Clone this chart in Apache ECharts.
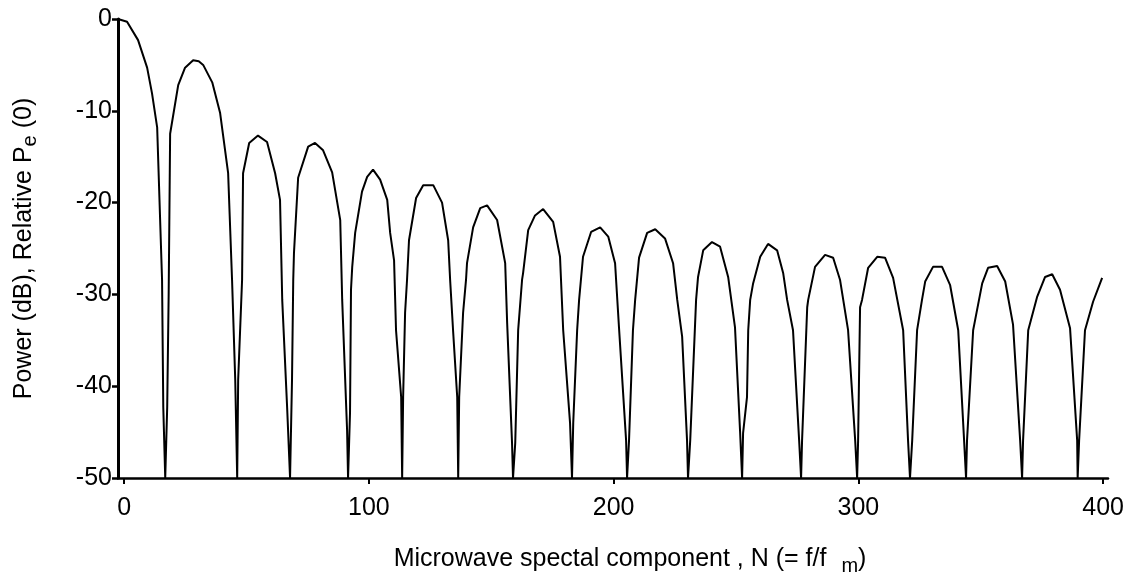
<!DOCTYPE html>
<html>
<head>
<meta charset="utf-8">
<script src="https://cdn.jsdelivr.net/npm/echarts@6/dist/echarts.min.js"></script>
<style>
  html, body { margin: 0; padding: 0; background: #fff; }
  #main { width: 1135px; height: 578px; }
</style>
</head>
<body>
<div id="main"></div>
<script>
// spectral component number N (= f/fm)
var componentN = [
  -2.5, 1.2, 5.7, 9.4, 11.4, 13.5, 15.5, 16.0, 16.8,
  17.6, 18.2, 18.8, 22.1, 24.9, 28.2, 30.5, 32.3, 36.0, 39.2, 42.5, 44.1, 45.4, 46.2,
  46.6, 48.2, 48.6, 51.1, 54.7, 58.4, 61.7, 63.7, 64.6, 66.6, 67.8,
  68.6, 69.1, 69.4, 71.1, 75.2, 78.0, 81.3, 85.0, 88.3, 89.1, 91.1, 91.5,
  92.3, 92.7, 93.2, 94.4, 97.2, 99.3, 101.7, 104.6, 107.5, 108.7, 110.3, 111.1, 113.2, 113.6,
  114.0, 114.8, 115.6, 116.4, 119.3, 122.2, 126.3, 129.9, 132.4, 133.2, 134.4, 136.1, 136.5,
  136.9, 138.5, 139.7, 140.1, 142.6, 145.5, 148.3, 152.4, 155.7, 156.5, 158.5, 158.9,
  159.8, 161.0, 162.6, 163.0, 165.1, 167.9, 171.2, 175.3, 178.1, 179.4, 182.2, 183.0,
  183.5, 185.1, 185.9, 187.5, 190.8, 194.5, 197.8, 200.6, 202.2, 205.1, 205.5,
  206.3, 207.9, 208.8, 210.4, 213.7, 217.0, 221.0, 224.3, 226.0, 228.0, 230.0, 230.4,
  231.3, 233.7, 234.5, 236.6, 240.2, 243.5, 246.8, 249.6, 251.7, 252.5,
  252.9, 254.5, 255.0, 255.8, 257.0, 259.9, 263.1, 266.8, 269.3, 270.9, 273.3, 275.8, 276.6,
  277.0, 279.1, 279.5, 282.3, 286.4, 289.7, 292.5, 295.8, 298.7, 299.5,
  299.9, 300.7, 301.5, 304.0, 307.7, 310.9, 314.2, 318.3, 320.3, 321.1,
  322.0, 324.0, 326.0, 327.3, 330.5, 334.2, 337.5, 340.8, 343.2, 344.0,
  344.4, 346.9, 347.7, 350.6, 353.0, 356.7, 360.0, 363.2, 366.1, 366.9,
  367.3, 369.4, 373.0, 376.3, 379.2, 382.4, 386.5, 389.4, 389.6,
  390.2, 392.6, 395.9, 399.6
];

// power (dB) relative to Pe(0)
var powerDb = [
  0, -0.3, -2.3, -5.3, -8.1, -11.8, -28.4, -42.3, -50,
  -42.3, -30, -12.5, -7.2, -5.3, -4.5, -4.6, -5.0, -6.9, -10.2, -16.8, -28.4, -39.3, -50,
  -39.3, -28.4, -16.8, -13.5, -12.7, -13.4, -16.8, -19.7, -30.6, -42.3, -50,
  -39.3, -28.4, -25.5, -17.3, -13.9, -13.5, -14.3, -16.7, -21.9, -30.6, -44.8, -50,
  -42.9, -29.5, -27.0, -23.3, -18.8, -17.2, -16.4, -17.5, -19.7, -23.3, -26.3, -33.9, -41.2, -50,
  -41.2, -32.0, -28.4, -24.1, -19.5, -18.1, -18.1, -20.0, -24.1, -28.4, -33.9, -41.2, -50,
  -41.2, -32.0, -28.4, -26.6, -22.7, -20.6, -20.3, -21.9, -26.6, -33.1, -46.2, -50,
  -46.2, -33.9, -28.4, -27.7, -23.0, -21.4, -20.7, -22.1, -25.9, -33.9, -44.0, -50,
  -44.0, -33.9, -30.6, -25.9, -23.2, -22.7, -23.7, -26.6, -33.6, -45.9, -50,
  -45.9, -33.9, -30.6, -26.0, -23.3, -22.9, -23.9, -26.6, -30.6, -34.6, -45.9, -50,
  -45.9, -30.6, -28.1, -25.2, -24.3, -24.8, -28.1, -33.6, -45.1, -50,
  -45.1, -41.2, -33.9, -30.6, -28.8, -25.9, -24.5, -25.2, -27.7, -30.6, -33.9, -45.9, -50,
  -45.9, -31.4, -30.6, -27.0, -25.7, -26.0, -28.4, -33.9, -45.9, -50,
  -45.9, -31.4, -30.6, -27.1, -25.9, -26.0, -28.2, -33.9, -45.9, -50,
  -45.9, -33.9, -30.6, -28.6, -27.0, -27.0, -29.0, -33.9, -45.9, -50,
  -45.9, -33.9, -32.8, -28.8, -27.1, -26.9, -28.6, -33.3, -45.9, -50,
  -45.9, -33.9, -30.3, -28.1, -27.8, -29.5, -33.7, -45.9, -50,
  -45.9, -33.9, -30.8, -28.2
];

var xTicks = [0, 100, 200, 300, 400];

var chart = echarts.init(document.getElementById('main'), null, { renderer: 'canvas' });

var seriesData = componentN.map(function (n, i) {
  return [n, powerDb[i]];
});

var font = '"Liberation Sans", Arial, Helvetica, sans-serif';

var option = {
  animation: false,
  backgroundColor: '#fff',
  grid: {
    left: 118,
    right: 27,
    top: 19,
    bottom: 100,
    outerBoundsMode: 'none'
  },
  xAxis: {
    type: 'value',
    min: -2.5,
    max: 402,
    name: '{t|Microwave spectal component , N (= f/f }{s|m}{t|)}',
    nameLocation: 'middle',
    nameGap: 64,
    nameTextStyle: {
      padding: [0, 0, 0, 34],
      rich: {
        t: { fontFamily: font, fontSize: 25, color: '#000' },
        s: { fontFamily: font, fontSize: 20, color: '#000', padding: [14, 0, 0, 8] }
      }
    },
    axisLine: { show: true, onZero: false, lineStyle: { color: '#000', width: 2.5 } },
    axisTick: {
      show: true,
      length: 6,
      customValues: xTicks,
      lineStyle: { color: '#000', width: 2 }
    },
    axisLabel: {
      customValues: xTicks,
      margin: 18,
      color: '#000',
      fontFamily: font,
      fontSize: 25
    },
    splitLine: { show: false }
  },
  yAxis: {
    type: 'value',
    min: -50,
    max: 0,
    interval: 10,
    name: '{t|Power (dB), Relative P}{s|e}{t| (0)}',
    nameLocation: 'middle',
    nameGap: 78,
    nameTextStyle: {
      rich: {
        t: { fontFamily: font, fontSize: 25, color: '#000' },
        s: { fontFamily: font, fontSize: 20, color: '#000', padding: [12, 0, 0, 0] }
      }
    },
    axisLine: { show: true, onZero: false, lineStyle: { color: '#000', width: 3 } },
    axisTick: { show: true, length: 6, lineStyle: { color: '#000', width: 2.5 } },
    axisLabel: {
      margin: 6,
      color: '#000',
      fontFamily: font,
      fontSize: 25
    },
    splitLine: { show: false }
  },
  series: [{
    type: 'line',
    data: seriesData,
    showSymbol: false,
    clip: true,
    lineStyle: { color: '#000', width: 2 }
  }]
};

chart.setOption(option);
</script>
</body>
</html>
